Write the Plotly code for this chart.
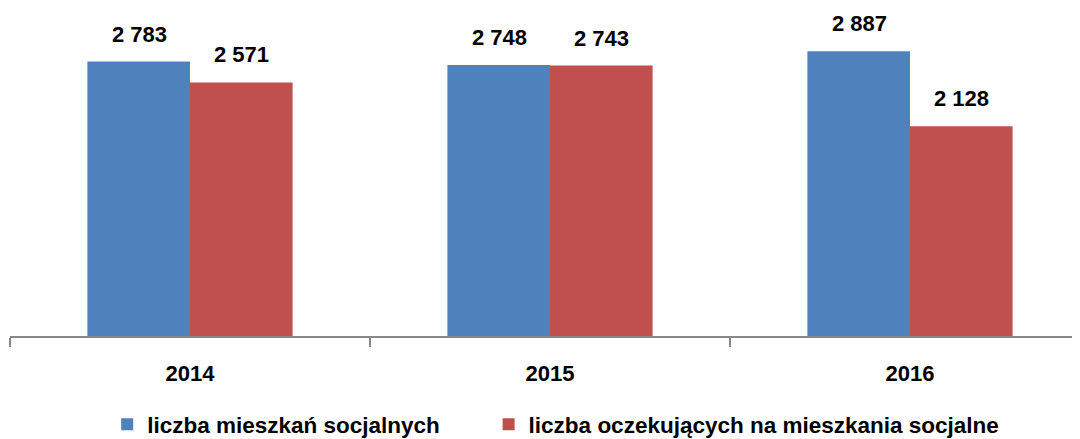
import plotly.graph_objects as go

years = ["2014", "2015", "2016"]
mieszkania = [2783, 2748, 2887]
oczekujacy = [2571, 2743, 2128]
series_names = ["liczba mieszkań socjalnych", "liczba oczekujących na mieszkania socjalne"]
colors = ["#4F81BD", "#C0504D"]

FONT = "Liberation Sans"
PAD = "\u00a0" * 7  # extra room between the two legend entries


def fmt(v):
    s = f"{v:,}"
    return s.replace(",", " ")


fig = go.Figure()
for i, (name, vals, col) in enumerate(zip(series_names, [mieszkania, oczekujacy], colors)):
    label = f"<b>{name}</b>" + (PAD if i == 0 else "")
    fig.add_trace(go.Bar(x=years, y=vals, name=label, marker_color=col,
                         marker_line_width=0))

# value labels over bars, offset left/right for the two groups
# (x given as category index, numeric-looking strings get misread)
for i, vals in enumerate([mieszkania, oczekujacy]):
    shift = -51 if i == 0 else 51
    for k, v in enumerate(vals):
        fig.add_annotation(x=k, y=v, text=f"<b>{fmt(v)}</b>", showarrow=False,
                           xshift=shift, yshift=13, yanchor="bottom",
                           font=dict(family=FONT, size=22, color="#000"))

# page body has an 8px margin, so the figure is 8px smaller than the window;
# each category is 360px wide and the last one runs past the right edge
PLOT_W = 1072 - 2
fig.update_layout(
    width=1072, height=431,
    margin=dict(l=2, r=0, t=2, b=103, autoexpand=False),
    plot_bgcolor="white", paper_bgcolor="white",
    barmode="group", bargap=0.43, bargroupgap=0,
    showlegend=True,
    legend=dict(orientation="h", x=0.51, xanchor="center",
                y=-0.272, yanchor="middle",
                font=dict(family=FONT, size=22.5, color="#000"),
                itemsizing="constant"),
    font=dict(family=FONT, color="#000"),
)
fig.update_xaxes(
    type="category", range=[-0.5, -0.5 + PLOT_W / 360], automargin=False,
    showline=True, linecolor="#888888", linewidth=1.5,
    ticks="outside", tickson="boundaries", ticklen=9, tickcolor="#888888",
    tickwidth=1.5,
    tickfont=dict(family=FONT, size=22, color="#000"),
    tickprefix="<b>", ticksuffix="</b>", ticklabelstandoff=17,
)
fig.update_yaxes(range=[0, 3306], visible=False, showgrid=False)

fig.write_html("out.html")
